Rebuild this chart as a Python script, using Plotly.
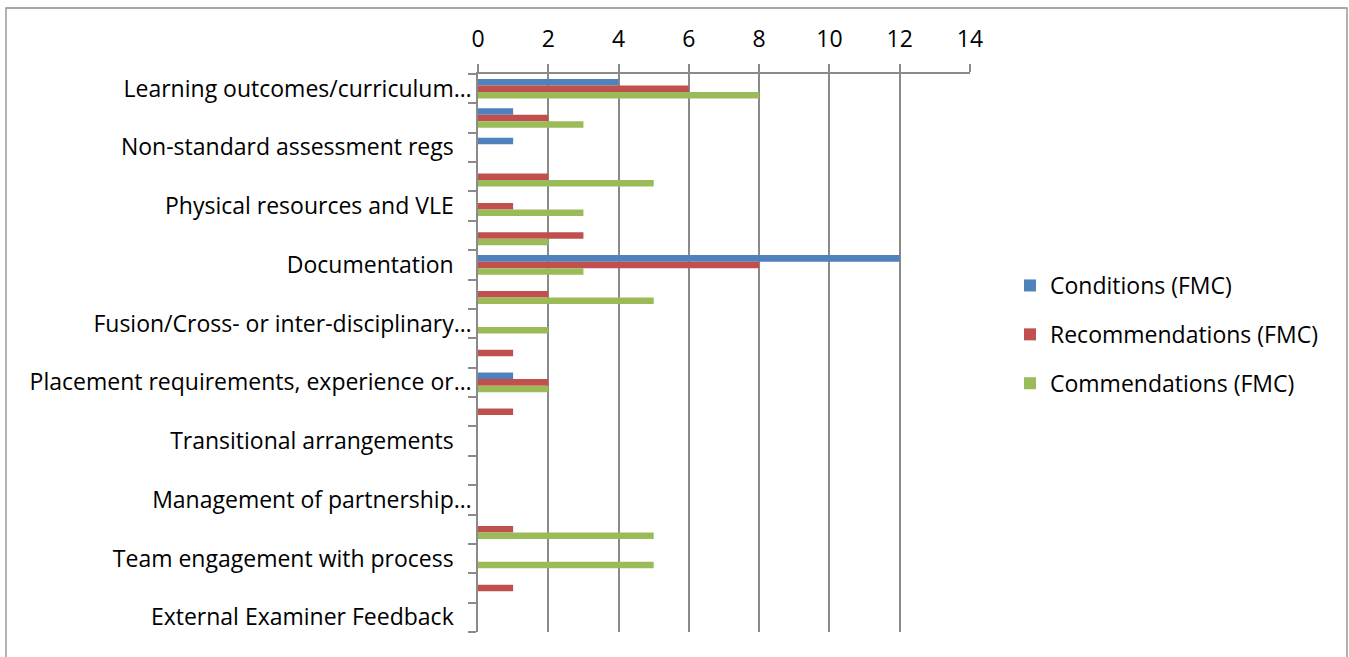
import plotly.graph_objects as go

categories = [
    "Learning outcomes/curriculum…", "Category 2", "Non-standard assessment regs",
    "Category 4", "Physical resources and VLE", "Category 6", "Documentation",
    "Category 8", "Fusion/Cross- or inter-disciplinary…", "Category 10",
    "Placement requirements, experience or…", "Category 12", "Transitional arrangements",
    "Category 14", "Management of partnership…", "Category 16",
    "Team engagement with process", "Category 18", "External Examiner Feedback",
]
tick_labels = [
    "Learning outcomes/curriculum…", "", "Non-standard assessment regs\u00a0\u00a0\u00a0",
    "", "Physical resources and VLE\u00a0\u00a0\u00a0", "", "Documentation\u00a0\u00a0\u00a0",
    "", "Fusion/Cross- or inter-disciplinary…", "",
    "Placement requirements, experience or…", "", "Transitional arrangements\u00a0\u00a0\u00a0",
    "", "Management of partnership…", "",
    "Team engagement with process\u00a0\u00a0\u00a0", "", "External Examiner Feedback\u00a0\u00a0\u00a0",
]
conditions = [4, 1, 1, 0, 0, 0, 12, 0, 0, 0, 1, 0, 0, 0, 0, 0, 0, 0, 0]
recommendations = [6, 2, 0, 2, 1, 3, 8, 2, 0, 1, 2, 1, 0, 0, 0, 1, 0, 1, 0]
commendations = [8, 3, 0, 5, 3, 2, 3, 5, 2, 0, 2, 0, 0, 0, 0, 5, 5, 0, 0]
series_names = ["Conditions (FMC)", "Recommendations (FMC)", "Commendations (FMC)"]
colors = ["#4F81BD", "#C0504D", "#9BBB59"]

FONT = "Open Sans"
FS = 23
fig = go.Figure()
for name, vals, col in zip(series_names, [conditions, recommendations, commendations], colors):
    fig.add_trace(go.Bar(
        y=categories, x=vals, name=name, orientation="h",
        marker=dict(color=col, line=dict(width=0)),
        legendgroup=name,
    ))

W, H = 1349, 657
L, R, T, B = 478, 970, 74, 632
pw, ph = R - L, B - T

def px_x(v):
    return (v - L) / pw

def px_y(v):
    return (B - v) / ph

fig.update_layout(
    width=W, height=H,
    margin=dict(l=L, r=W - R, t=T, b=H - B, autoexpand=False),
    paper_bgcolor="white", plot_bgcolor="white",
    barmode="group", bargap=0.333, bargroupgap=0,
    font=dict(family=FONT, size=FS, color="#000000"),
    xaxis=dict(
        side="top", range=[0, 14], dtick=2, tick0=0,
        showgrid=True, gridcolor="#8a8a8a", gridwidth=1.5,
        showline=True, linecolor="#8a8a8a", linewidth=1.5,
        ticks="outside", ticklen=8, tickcolor="#8a8a8a", tickwidth=1.5,
        ticklabelstandoff=8,
        zeroline=False, tickfont=dict(family=FONT, size=FS),
    ),
    yaxis=dict(
        type="category", autorange="reversed",
        tickmode="array", tickvals=categories, ticktext=tick_labels,
        tickson="boundaries", ticks="outside", ticklen=8, tickcolor="#8a8a8a", tickwidth=1.5,
        showline=True, linecolor="#8a8a8a", linewidth=1.5,
        showgrid=False, tickfont=dict(family=FONT, size=FS),
    ),
    legend=dict(
        x=px_x(1010), y=px_y(264), xanchor="left", yanchor="top",
        traceorder="grouped", tracegroupgap=16,
        font=dict(family=FONT, size=FS),
        itemsizing="constant",
    ),
    shapes=[dict(
        type="rect", xref="paper", yref="paper",
        x0=px_x(6), x1=px_x(1347), y0=px_y(670), y1=px_y(8),
        line=dict(color="#8a8a8a", width=1.3), fillcolor="rgba(0,0,0,0)", layer="below",
    )],
)
fig.write_html("out.html")
